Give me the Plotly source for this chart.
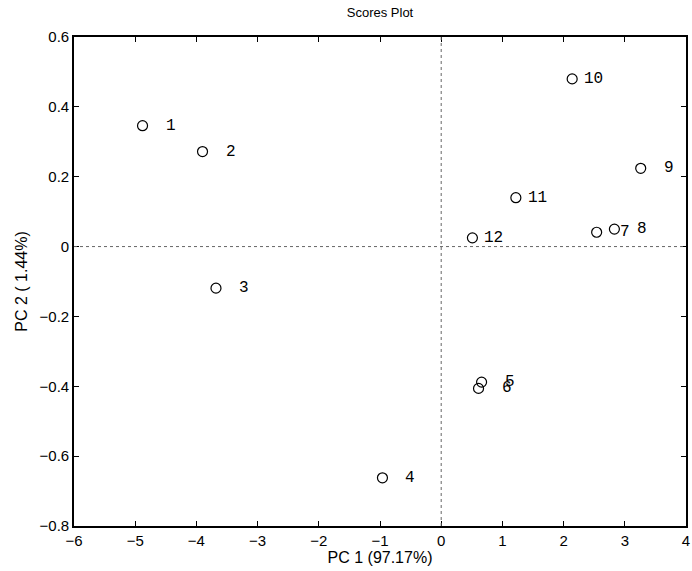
import plotly.graph_objects as go

labels = ["1", "2", "3", "4", "5", "6", "7", "8", "9", "10", "11", "12"]
pc1 = [-4.88, -3.90, -3.68, -0.96, 0.66, 0.61, 2.54, 2.83, 3.26, 2.14, 1.22, 0.51]
pc2 = [0.346, 0.272, -0.119, -0.662, -0.388, -0.406, 0.041, 0.050, 0.224, 0.480, 0.140, 0.025]

x_ticks = [-6, -5, -4, -3, -2, -1, 0, 1, 2, 3, 4]
y_ticks = [-0.8, -0.6, -0.4, -0.2, 0, 0.2, 0.4, 0.6]

SANS = "Liberation Sans, Arial, sans-serif"
MONO = "Liberation Mono, Courier New, monospace"

fig = go.Figure()
fig.add_trace(go.Scatter(
    x=pc1, y=pc2, mode="markers",
    marker=dict(symbol="circle-open", size=10, color="black", line=dict(width=1.2, color="black")),
    showlegend=False, hoverinfo="skip",
))

for lab, xv, yv in zip(labels, pc1, pc2):
    fig.add_annotation(
        x=xv, y=yv, text=lab, showarrow=False, xanchor="left", yanchor="middle",
        xshift=21 if len(lab) == 1 else 10,
        font=dict(family=MONO, size=16, color="black"),
    )

# dotted reference lines through the origin
fig.add_shape(type="line", xref="x", yref="paper", x0=0, x1=0, y0=0, y1=1,
              line=dict(color="#666", width=1, dash="dot"))
fig.add_shape(type="line", xref="paper", yref="y", x0=0, x1=1, y0=0, y1=0,
              line=dict(color="#666", width=1, dash="dot"))

axis_common = dict(
    showgrid=False, zeroline=False, showline=True, linecolor="black", linewidth=1.6,
    mirror="ticks", ticks="inside", ticklen=5, tickcolor="black", tickwidth=1,
    automargin=False,
    tickfont=dict(family=SANS, size=15, color="black"),
)

fig.update_xaxes(range=[-6, 4], tickvals=x_ticks, **axis_common,
                 title=dict(text="PC 1 (97.17%)", standoff=2,
                            font=dict(family=SANS, size=16, color="black")))
fig.update_yaxes(range=[-0.8, 0.6], tickvals=y_ticks, **axis_common,
                 title=dict(text="PC 2 (\u00a01.44%)", standoff=8,
                            font=dict(family=SANS, size=16, color="black")))

fig.update_layout(
    width=692, height=571,
    margin=dict(l=74, r=6, t=37, b=45),
    paper_bgcolor="white", plot_bgcolor="white",
    title=dict(text="Scores Plot", x=0.5, xref="paper", y=0.978, yanchor="middle",
               font=dict(family=SANS, size=13, color="black")),
)

fig.write_html("out.html", config={"displayModeBar": False},
               post_script="document.body.style.margin='0';")
